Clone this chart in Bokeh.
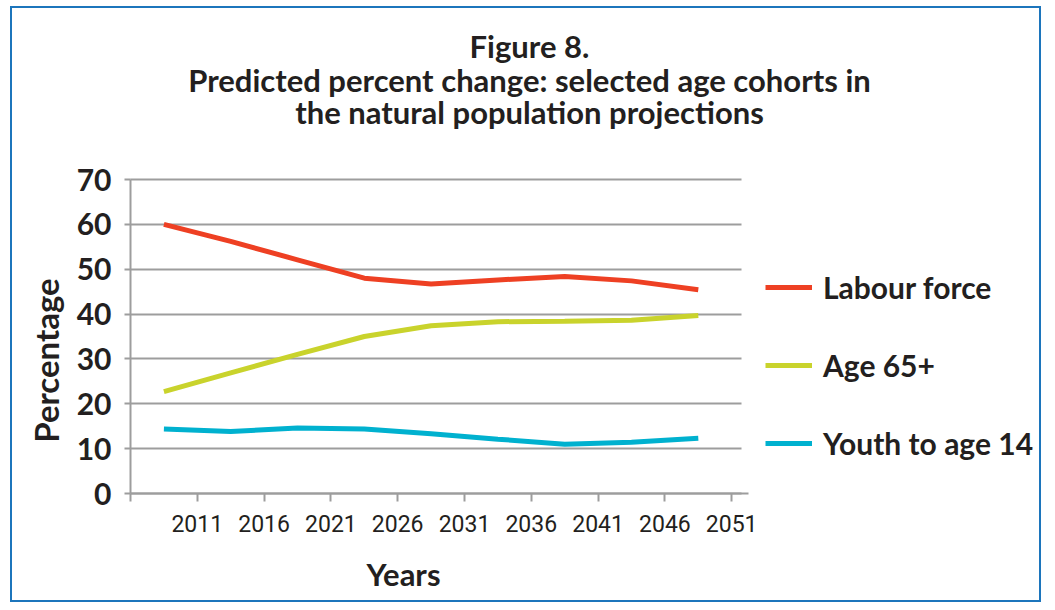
import math
from bokeh.plotting import figure
from bokeh.models import Range1d, FixedTicker, Legend, LegendItem, ColumnDataSource, Label
from bokeh.embed import file_html
from bokeh.resources import INLINE

# ---- data ----
years = ["2011", "2016", "2021", "2026", "2031", "2036", "2041", "2046", "2051"]
labour_force = [60.0, 56.2, 52.1, 48.0, 46.7, 47.6, 48.4, 47.4, 45.4]
age_65_plus = [22.7, 26.9, 31.0, 35.0, 37.4, 38.3, 38.4, 38.6, 39.7]
youth_to_14 = [14.4, 13.8, 14.6, 14.4, 13.3, 12.1, 11.0, 11.4, 12.3]
y_ticks = [0, 10, 20, 30, 40, 50, 60, 70]
series_names = ["Labour force", "Age 65+", "Youth to age 14"]
title_lines = ["Figure 8.",
               "Predicted percent change: selected age cohorts in",
               "the natural population projections"]

idx = list(range(len(years)))
src = ColumnDataSource(dict(x=idx, lf=labour_force, age=age_65_plus, youth=youth_to_14))

FONT = "Lato"
DARK = "#231f20"
GRID = "#9d9d9d"

# layout (pixels); the frame covers the whole canvas, axes are pinned inside it
W, H = 1031, 596
AX_LEFT, AX_BOTTOM = 118, 111      # pixel offset of the plot origin from canvas left / bottom
PX_PER_CAT = 66.8                  # horizontal pixels per category
PX_PER_UNIT = 314 / 70             # vertical pixels per percentage point
x_lo = -0.5
x_hi_plot = len(years) - 0.35
y_top = y_ticks[-1]
x_start = x_lo - AX_LEFT / PX_PER_CAT
y_start = -AX_BOTTOM / PX_PER_UNIT

p = figure(width=W, height=H, output_backend="svg", toolbar_location=None,
           x_range=Range1d(x_start, x_start + W / PX_PER_CAT),
           y_range=Range1d(y_start, y_start + H / PX_PER_UNIT),
           min_border_left=0, min_border_right=0, min_border_top=0, min_border_bottom=0)
p.styles = {"border": "2px solid #1c75bc", "margin": "6px 0px 0px 10px"}
p.outline_line_color = None

# x axis: labels at category boundaries
xt = [i - 0.5 for i in idx] + [len(years) - 0.5]
p.xaxis.fixed_location = 0
p.xaxis.ticker = FixedTicker(ticks=xt)
overrides = {xt[0]: ""}
for i, yv in enumerate(years):
    overrides[i + 0.5] = yv
p.xaxis.major_label_overrides = overrides
p.xaxis.bounds = (x_lo, x_hi_plot + 0.1)
p.xaxis.major_label_text_font = "Roboto"
p.xaxis.major_label_text_font_size = "23px"
p.xaxis.major_label_text_color = DARK
p.xaxis.major_label_standoff = 13
p.xaxis.major_tick_out = 8
p.xaxis.major_tick_in = 0
p.xaxis.minor_tick_line_color = None
p.xaxis.axis_line_color = GRID
p.xaxis.axis_line_width = 2
p.xaxis.major_tick_line_color = GRID
p.xaxis.major_tick_line_width = 2

p.yaxis.fixed_location = x_lo
p.yaxis.ticker = FixedTicker(ticks=y_ticks)
p.yaxis.bounds = (0, y_top)
p.yaxis.major_label_text_font = FONT
p.yaxis.major_label_text_font_style = "bold"
p.yaxis.major_label_text_font_size = "30px"
p.yaxis.major_label_text_color = DARK
p.yaxis.major_label_standoff = 13
p.yaxis.major_tick_out = 6
p.yaxis.major_tick_in = 0
p.yaxis.minor_tick_line_color = None
p.yaxis.axis_line_color = GRID
p.yaxis.axis_line_width = 2
p.yaxis.major_tick_line_color = GRID
p.yaxis.major_tick_line_width = 2

p.xgrid.visible = False
g = p.ygrid[0]
if "cross_bounds" in g.properties():
    g.grid_line_color = GRID
    g.grid_line_width = 2
    g.bounds = (0, y_top)
    g.cross_bounds = (x_lo, x_hi_plot)
else:
    g.visible = False
    p.segment(x0=[x_lo] * len(y_ticks), x1=[x_hi_plot] * len(y_ticks), y0=y_ticks, y1=y_ticks,
              line_color=GRID, line_width=2)

r1 = p.line("x", "lf", source=src, line_color="#ee4023", line_width=5)
r2 = p.line("x", "age", source=src, line_color="#c9d32c", line_width=5)
r3 = p.line("x", "youth", source=src, line_color="#00b1cf", line_width=5)

legend = Legend(items=[LegendItem(label=series_names[0], renderers=[r1]),
                       LegendItem(label=series_names[1], renderers=[r2]),
                       LegendItem(label=series_names[2], renderers=[r3])],
                location=(753, 143), orientation="vertical",
                label_text_font=FONT, label_text_font_style="bold",
                label_text_font_size="30px", label_text_color=DARK,
                glyph_width=47, glyph_height=30, label_height=30, spacing=42,
                padding=0, margin=0, label_standoff=11,
                border_line_color=None, background_fill_alpha=0)
p.add_layout(legend)

for text, yy in zip(title_lines, [559, 525, 493]):
    p.add_layout(Label(x=517, y=yy, x_units="screen", y_units="screen", text=text,
                       text_align="center", text_baseline="middle", text_font=FONT,
                       text_font_style="bold", text_font_size="31px", text_color=DARK))

p.add_layout(Label(x=33, y=244, x_units="screen", y_units="screen", text="Percentage",
                   angle=math.pi / 2, text_align="center", text_baseline="middle",
                   text_font=FONT, text_font_style="bold", text_font_size="33px",
                   text_color=DARK))
p.add_layout(Label(x=391, y=31, x_units="screen", y_units="screen", text="Years",
                   text_align="center", text_baseline="middle",
                   text_font=FONT, text_font_style="bold", text_font_size="31px",
                   text_color=DARK))

open("out.html", "w").write(file_html(p, INLINE))
